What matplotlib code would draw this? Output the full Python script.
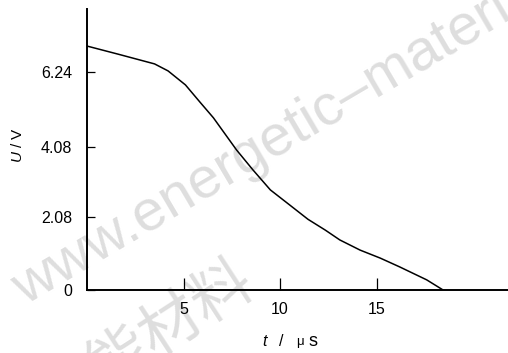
import matplotlib
matplotlib.use("Agg")
import matplotlib.pyplot as plt

# Data
t_us = [0.0, 1.6, 3.5, 4.2, 5.1, 5.85, 6.55, 7.75, 8.6, 9.5, 10.5, 11.45,
        12.35, 13.1, 14.15, 15.2, 16.2, 17.6, 18.45]
u_v = [6.97, 6.74, 6.46, 6.26, 5.86, 5.37, 4.92, 4.0, 3.43, 2.86, 2.43, 2.02,
       1.71, 1.43, 1.14, 0.91, 0.66, 0.29, 0.0]
x_ticks = [5, 10, 15]
x_ticklabels = ["5", "10", "15"]
y_ticks = [0, 2.08, 4.08, 6.24]
y_ticklabels = ["0", "2.08", "4.08", "6.24"]

plt.rcParams['font.family'] = ['Liberation Sans', 'DejaVu Sans']
plt.rcParams['mathtext.fontset'] = 'custom'
plt.rcParams['mathtext.it'] = 'Liberation Sans:italic'
plt.rcParams['mathtext.rm'] = 'Liberation Sans'

W, H = 508, 353
fig = plt.figure(figsize=(W / 100, H / 100), dpi=100)
ax = fig.add_axes([87 / W, (H - 290) / H, 421 / W, 280.7 / H])
ax.patch.set_visible(False)

ax.plot(t_us, u_v, color='black', lw=1.1, zorder=3)

ax.set_xlim(0, 421 / 19.3)
ax.set_ylim(0, 8.02)
for s in ['top', 'right']:
    ax.spines[s].set_visible(False)
for s in ['left', 'bottom']:
    ax.spines[s].set_linewidth(1.4)
    ax.spines[s].set_color('black')

ax.set_xticks(x_ticks)
ax.set_xticklabels(x_ticklabels)
ax.set_yticks(y_ticks)
ax.set_yticklabels(y_ticklabels)
ax.tick_params(axis='x', direction='in', length=8.6, width=0.9, pad=9, labelsize=11.5)
ax.tick_params(axis='y', direction='in', length=5.8, width=0.9, pad=10.5, labelsize=11.5)

# axis labels
fig.text(17 / W, 1 - 145 / H, r'$U$ / V', rotation=90, ha='center', va='center', fontsize=11)
fig.text(265 / W, 1 - 342 / H, r'$t$', ha='center', va='center', fontsize=11.5)
fig.text(281 / W, 1 - 341 / H, '/', ha='center', va='center', fontsize=11.5)
fig.text(300 / W, 1 - 342 / H, 'μ', ha='center', va='center', fontsize=9.5)
fig.text(313 / W, 1 - 341 / H, 's', ha='center', va='center', fontsize=13)

# watermark
wm_color = '#dedede'
fig.text(25 / W, 1 - 306 / H, 'www.energetic–materials.org.cn', rotation=30.5,
         rotation_mode='anchor', ha='left', va='baseline', fontsize=41.5,
         color=wm_color, zorder=-1)
fig.text(146 / W, 1 - 342 / H, '含能材料', rotation=33, rotation_mode='anchor',
         ha='center', va='center', fontsize=44, color=wm_color, zorder=-1,
         family=['Noto Sans CJK SC', 'DejaVu Sans'])

fig.savefig('out.png', dpi=100)
